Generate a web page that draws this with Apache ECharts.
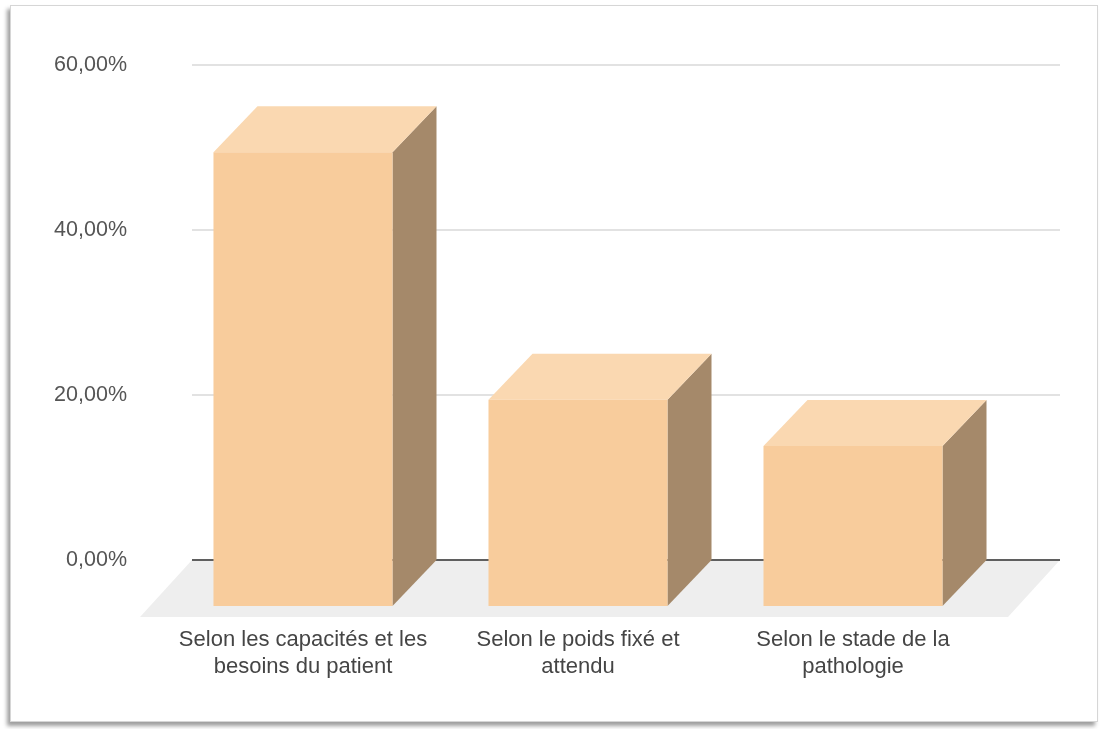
<!DOCTYPE html>
<html>
<head>
<meta charset="utf-8">
<title>Répartition</title>
<script src="https://cdn.jsdelivr.net/npm/echarts@6/dist/echarts.min.js"></script>
<style>
  html, body { margin: 0; padding: 0; background: #ffffff; }
  #card {
    position: absolute; left: 10px; top: 5px; width: 1086px; height: 715px;
    background: #ffffff; border: 1px solid #d6d6d6;
    box-shadow: -3px 4px 4px rgba(0, 0, 0, 0.38);
  }
  #chart { position: absolute; left: 0; top: 0; width: 1100px; height: 729px; }
</style>
</head>
<body>
<div id="card"></div>
<div id="chart"></div>
<script>
// Categories and values (share of answers, in %)
const categories = [
  'Selon les capacités et les\nbesoins du patient',
  'Selon le poids fixé et\nattendu',
  'Selon le stade de la\npathologie'
];
const values = [55, 25, 19.4];
const yTicks = { min: 0, max: 60, interval: 20 };

// 3D look: offset of the front face from the back wall (px)
const DX = 44, DY = 46;
const FLOOR_DX = 52, FLOOR_DY = 57;
const HALF_W = 0.3255; // half bar width, in category units

const chart = echarts.init(document.getElementById('chart'), null, { renderer: 'canvas' });

function fmtPct(v) {
  return v.toFixed(2).replace('.', ',') + '%';
}

const option = {
  backgroundColor: 'transparent',
  animation: false,
  grid: [
    { left: 192, right: 40, top: 65, bottom: 169 },      // back wall
    { left: 165.5, width: 825, top: 65, bottom: 169 }     // front plane (labels)
  ],
  xAxis: [
    {
      type: 'value', gridIndex: 0,
      min: -0.5636, max: 2.5927,
      show: false
    },
    {
      type: 'category', gridIndex: 1, data: categories,
      axisLine: { show: false }, axisTick: { show: false },
      axisLabel: {
        margin: 66, interval: 0,
        fontFamily: 'Liberation Sans, Arial, sans-serif',
        fontSize: 22, lineHeight: 27, color: '#454545', align: 'center'
      }
    }
  ],
  yAxis: [
    {
      type: 'value', gridIndex: 0,
      min: yTicks.min, max: yTicks.max, interval: yTicks.interval,
      axisLine: { show: false }, axisTick: { show: false },
      axisLabel: {
        margin: 65,
        fontFamily: 'Liberation Sans, Arial, sans-serif',
        fontSize: 21.5, color: '#555555',
        formatter: fmtPct
      },
      splitLine: { lineStyle: { color: '#d9d9d9', width: 1.5 } }
    },
    {
      type: 'value', gridIndex: 1, min: 0, max: 60, show: false
    }
  ],
  series: [
    {
      // floor of the 3D plot and the zero baseline on the back wall
      type: 'custom',
      xAxisIndex: 0, yAxisIndex: 0,
      z: 1,
      silent: true,
      data: [[0, 0]],
      renderItem: function (params, api) {
        const cs = params.coordSys;
        const y0 = api.coord([0, 0])[1];
        const xl = cs.x, xr = cs.x + cs.width;
        return {
          type: 'group',
          children: [
            {
              type: 'polygon',
              shape: { points: [[xl, y0], [xr, y0], [xr - FLOOR_DX, y0 + FLOOR_DY], [xl - FLOOR_DX, y0 + FLOOR_DY]] },
              style: { fill: '#eeeeee' }
            },
            {
              type: 'line',
              shape: { x1: xl, y1: y0, x2: xr, y2: y0 },
              style: { stroke: '#5f5f5f', lineWidth: 2 }
            }
          ]
        };
      }
    },
    {
      // 3D columns
      type: 'custom',
      xAxisIndex: 0, yAxisIndex: 0,
      z: 3,
      data: values.map(function (v, i) { return [i, v]; }),
      encode: { x: 0, y: 1 },
      renderItem: function (params, api) {
        const i = api.value(0), v = api.value(1);
        const bl = api.coord([i - HALF_W, 0]);
        const tr = api.coord([i + HALF_W, v]);
        const bx0 = bl[0], bx1 = tr[0], by0 = bl[1], by1 = tr[1];
        const fx0 = bx0 - DX, fx1 = bx1 - DX, fy0 = by0 + DY, fy1 = by1 + DY;
        return {
          type: 'group',
          children: [
            {
              type: 'polygon',
              shape: { points: [[fx1, fy1], [bx1, by1], [bx1, by0], [fx1, fy0]] },
              style: { fill: '#a5896a' }
            },
            {
              type: 'polygon',
              shape: { points: [[fx0, fy1], [fx1, fy1], [bx1, by1], [bx0, by1]] },
              style: { fill: '#fad8b1' }
            },
            {
              type: 'rect',
              shape: { x: fx0, y: fy1, width: fx1 - fx0, height: fy0 - fy1 },
              style: { fill: '#f8cc9c' }
            }
          ]
        };
      }
    }
  ]
};

chart.setOption(option);
</script>
</body>
</html>
